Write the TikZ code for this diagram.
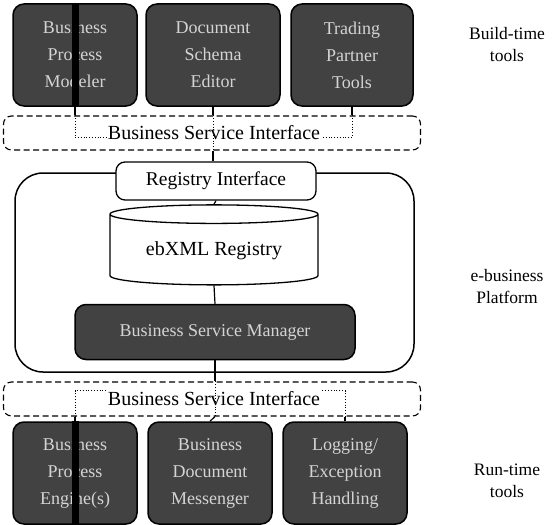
\documentclass[tikz,border=0pt]{standalone}
\usepackage{fontspec}
\setmainfont{Liberation Serif}
\usetikzlibrary{shapes.geometric,positioning}
\tikzset{
	%Define style for dark tool boxes
	toolBox/.style={
		rectangle,
		rounded corners=11pt,
		draw=black, line width=1.5pt,
		fill=black!74,
		text=black!17,
		align=center,
		font=\fontsize{18}{27}\selectfont,
		minimum height=102pt,
		inner sep=2pt},
	%Define style for the dashed interface bands
	ifaceBox/.style={
		rectangle,
		rounded corners=8pt,
		draw=black, line width=1.1pt,
		dash pattern=on 6pt off 3.5pt,
		minimum width=417pt,
		minimum height=34pt},
	% white boxes inside the platform
	whiteBox/.style={
		rectangle,
		rounded corners=9pt,
		draw=black, line width=1.3pt,
		fill=white,
		font=\fontsize{19.5}{23}\selectfont},
	sideLabel/.style={
		align=center,
		font=\fontsize{17.5}{22}\selectfont},
	% Define connector styles
	linkStyle/.style={line width=1.2pt},
	dotLink/.style={line width=0.8pt, dotted}
}

\begin{document}
\begin{tikzpicture}[x=1pt,y=-1pt]
	\useasboundingbox (0,0) rectangle (553,524);
	
	%platform frame
	\node[draw=black, line width=1.5pt, rounded corners=28pt, minimum width=399pt, minimum height=199pt] (platformFrame) at (214.5,272.5) {};
	
	%build-time tools
	\node[toolBox, minimum width=124pt] (bpmNode) at (75,55) {Business\\Process\\Modeler};
	\node[toolBox, minimum width=134pt] (schemaNode) at (213,55) {Document\\Schema\\Editor};
	\node[toolBox, minimum width=122pt] (tpaNode) at (352,55) {Trading\\Partner\\Tools};
	\draw[line width=7pt] (bpmNode.north) -- (bpmNode.south);
	
	\node[ifaceBox] (topBsi) at (212,133) {};
	\node[inner sep=1pt, font=\fontsize{20}{24}\selectfont] (topBsiLabel) at (214,133) {Business Service Interface};
	
	%platform contents
	\node[whiteBox, minimum width=200pt, minimum height=38pt] (regIfNode) at (216,181) {Registry Interface};
	\node[cylinder, shape border rotate=90, aspect=0.13, draw=black, line width=1.3pt, fill=white, minimum width=208pt, minimum height=80pt, font=\fontsize{20}{24}\selectfont] (registryDb) at (214,251) {ebXML Registry};
	\node[toolBox, minimum width=280pt, minimum height=55pt] (bsmNode) at (215,332) {Business Service Manager};
	
	\node[ifaceBox] (botBsi) at (212,399) {};
	\node[inner sep=1pt, font=\fontsize{20}{24}\selectfont] (botBsiLabel) at (214,399) {Business Service Interface};
	
	%run-time tools
	\node[toolBox, minimum width=124pt] (engineNode) at (75,473) {Business\\Process\\Engine(s)};
	\node[toolBox, minimum width=124pt] (messengerNode) at (210,473) {Business\\Document\\Messenger};
	\node[toolBox, minimum width=124pt] (loggingNode) at (345,473) {Logging/\\Exception\\Handling};
	\draw[line width=7pt] (engineNode.north) -- (engineNode.south);
	
	%side labels
	\node[sideLabel] (buildLabel) at (507,45) {Build-time\\tools};
	\node[sideLabel] (platformLabel) at (507,287) {e-business\\Platform};
	\node[sideLabel] (runLabel) at (507,481) {Run-time\\tools};
	
	%links, build-time side
	\draw[linkStyle] (bpmNode.south) -- (bpmNode.south |- topBsi.north);
	\draw[dotLink] (bpmNode.south |- topBsi.north) |- (topBsiLabel.mid west);
	\draw[linkStyle] (tpaNode.south) -- (tpaNode.south |- topBsi.north);
	\draw[dotLink] (tpaNode.south |- topBsi.north) |- (topBsiLabel.mid east);
	\draw[linkStyle] (schemaNode.south) -- (schemaNode.south |- topBsi.north);
	\draw[dotLink] (schemaNode.south |- topBsi.north) -- (schemaNode.south |- topBsi.south);
	\draw[linkStyle] (schemaNode.south |- topBsi.south) -- (schemaNode.south |- regIfNode.north);
	
	%links inside the platform
	\draw[linkStyle] (regIfNode.south) -- (registryDb.north);
	\draw[linkStyle] (registryDb.south) -- (bsmNode.north);
	
	%links, run-time side
	\draw[linkStyle] (bsmNode.south) -- (bsmNode.south |- botBsi.north);
	\draw[dotLink] (bsmNode.south |- botBsi.north) -- (bsmNode.south |- botBsi.south);
	\draw[linkStyle] (bsmNode.south |- botBsi.south) -- (messengerNode.north);
	\draw[linkStyle] (engineNode.north) -- (engineNode.north |- botBsi.south);
	\draw[dotLink] (engineNode.north |- botBsi.south) |- (botBsiLabel.north west);
	\draw[linkStyle] (loggingNode.north) -- (loggingNode.north |- botBsi.south);
	\draw[dotLink] (loggingNode.north |- botBsi.south) |- (botBsiLabel.north east);
	
\end{tikzpicture}
\end{document}
